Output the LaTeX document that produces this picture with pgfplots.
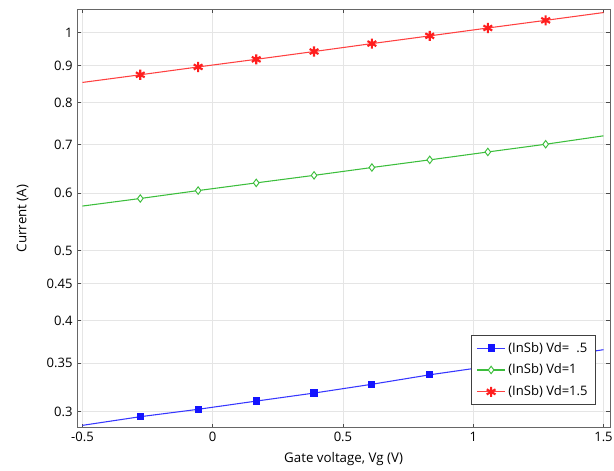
\documentclass[border=0pt]{standalone}
\usepackage{fontspec}
\setmainfont{Open Sans}
\usepackage{pgfplots}
\pgfplotsset{compat=1.18}

\definecolor{cblue}{RGB}{20,20,255}
\definecolor{cgreen}{RGB}{60,190,60}
\definecolor{cred}{RGB}{255,30,30}

\begin{document}
\begin{tikzpicture}
  \useasboundingbox (-58pt,-32pt) rectangle (403pt,321pt);
  \begin{axis}[
    at={(0,0)}, anchor=south west,
    scale only axis, width=400pt, height=314pt,
    ymode=log,
    xmin=-0.52, xmax=1.525, ymin=0.285, ymax=1.076,
    xtick={-0.5,0,0.5,1,1.5},
    xticklabels={-0.5,0,0.5,1,1.5},
    ytick={0.3,0.35,0.4,0.45,0.5,0.6,0.7,0.8,0.9,1},
    yticklabels={0.3,0.35,0.4,0.45,0.5,0.6,0.7,0.8,0.9,1},
    yminorticks=false,
    tick align=inside, major tick length=3pt,
    tick style={black!70, line width=0.5pt},
    axis line style={black!60, line width=0.6pt},
    grid=major, major grid style={black!10, line width=0.5pt},
    tick label style={font=\fontsize{9.8}{11}\selectfont, text=black},
    label style={font=\fontsize{8.8}{10}\selectfont, text=black},
    xlabel={Gate voltage, Vg (V)},
    ylabel={Current (A)},
    every axis x label/.style={at={(axis description cs:0.5,0)}, yshift=-24pt, anchor=center},
    every axis y label/.style={at={(axis description cs:0,0.5)}, xshift=-41pt, rotate=90, anchor=center},
    legend style={at={(rel axis cs:1,0)}, anchor=south east, xshift=-10.5pt, yshift=17pt,
      font=\fontsize{9.8}{11}\selectfont, draw=black!75, line width=0.6pt,
      row sep=3.5pt, inner xsep=4pt, inner ysep=3pt, cells={anchor=west}},
    legend cell align=left,
    legend image code/.code={
      \draw[#1, mark indices={2}] plot coordinates {(0cm,0cm) (0.37cm,0cm) (0.74cm,0cm)};},
  ]
  \addplot[cblue!85, line width=0.8pt, mark=square*, mark size=2.3pt,
    mark options={cblue, solid}, mark indices={2,3,4,5,6,7,8,9}]
    coordinates {(-0.5,0.287)(-0.278,0.295)(-0.056,0.302)(0.167,0.310)(0.389,0.318)
                 (0.611,0.327)(0.833,0.337)(1.056,0.346)(1.278,0.355)(1.5,0.365)};
  \addlegendentry{(InSb) Vd=\hspace{0.55em}.5}
  \addplot[cgreen, line width=0.8pt, mark=diamond*, mark size=2.8pt,
    mark options={draw=cgreen, fill=white, line width=0.7pt}, mark indices={2,3,4,5,6,7,8,9}]
    coordinates {(-0.5,0.576)(-0.278,0.590)(-0.056,0.605)(0.167,0.620)(0.389,0.635)
                 (0.611,0.651)(0.833,0.667)(1.056,0.684)(1.278,0.701)(1.5,0.720)};
  \addlegendentry{(InSb) Vd=1}
  \addplot[cred!85, line width=0.8pt, mark=asterisk, mark size=3.8pt,
    mark options={cred, line width=1.6pt}, mark indices={2,3,4,5,6,7,8,9}]
    coordinates {(-0.5,0.853)(-0.278,0.874)(-0.056,0.896)(0.167,0.918)(0.389,0.941)
                 (0.611,0.965)(0.833,0.989)(1.056,1.014)(1.278,1.039)(1.5,1.065)};
  \addlegendentry{(InSb) Vd=1.5}
  \end{axis}
\end{tikzpicture}
\end{document}
